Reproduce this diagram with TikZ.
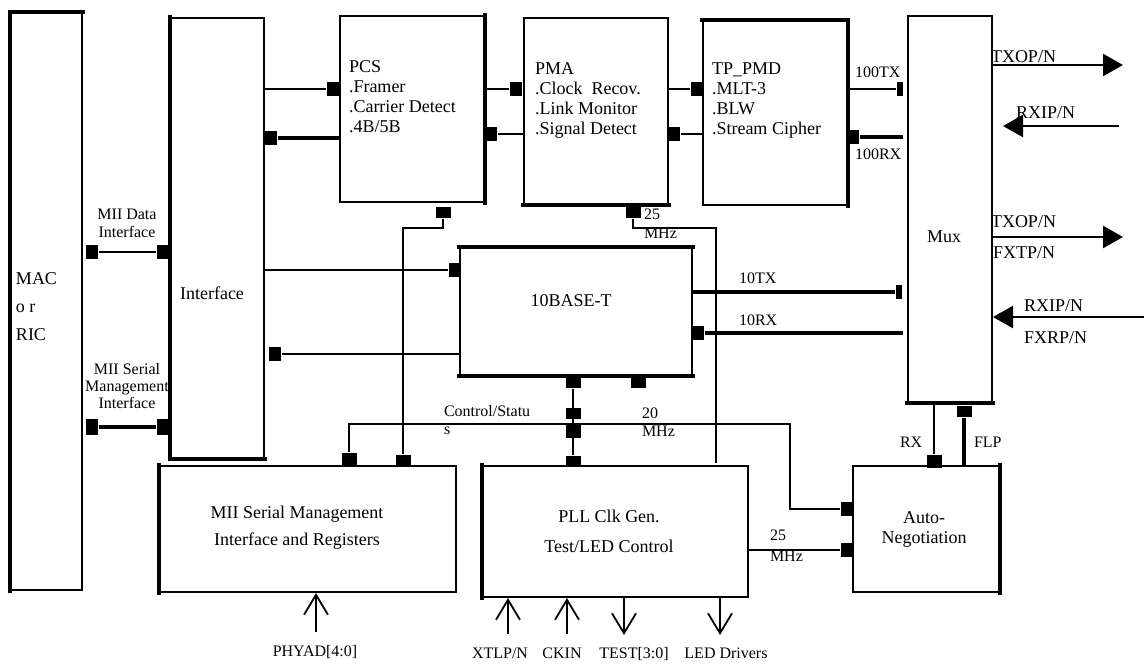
\documentclass[tikz,border=0pt]{standalone}
\usepackage{fontspec}
\setmainfont{Liberation Serif}
\usepackage{tikz}
\usetikzlibrary{positioning,arrows,arrows.meta}

\begin{document}
\begin{tikzpicture}[x=1pt,y=-1pt,line width=2pt,inner sep=0pt,font=\fontsize{18}{20}\selectfont]
            \tikzstyle{box}=[draw,line width=2pt]
            \tikzstyle{heavy}=[line width=4pt,line cap=rect]
            \tikzstyle{port}=[fill=black,minimum width=12pt,minimum height=14pt]
            \tikzstyle{hport}=[fill=black,minimum width=15pt,minimum height=11pt]
            \tikzstyle{portbar}=[fill=black,minimum width=6pt,minimum height=14pt]
            \tikzstyle{wire}=[line width=2pt]
            \tikzstyle{bus}=[line width=3.5pt]
            \tikzstyle{lbl}=[font=\fontsize{16}{18}\selectfont]
            \tikzstyle{outpin}=[line width=2.5pt,-{Triangle[length=20pt,width=22pt]}]
            \tikzstyle{sig}=[line width=1.8pt,-{Straight Barb[length=20pt,width=24pt]}]
            \useasboundingbox (0,0) rectangle (1144,665);

            \node[box,minimum width=71pt,minimum height=577pt] (mac) at (46.5,301.5) {};
            \node[box,minimum width=93pt,minimum height=440pt] (iface) at (217.5,238) {};
            \node[box,minimum width=144pt,minimum height=186pt] (pcs) at (412,109) {};
            \node[box,minimum width=144pt,minimum height=186pt] (pma) at (596,111) {};
            \node[box,minimum width=144pt,minimum height=184pt] (pmd) at (775,113) {};
            \node[box,minimum width=84pt,minimum height=386pt] (mux) at (950,209) {};
            \node[box,minimum width=232pt,minimum height=127pt] (tenbt) at (576,311.5) {};
            \node[box,minimum width=296pt,minimum height=126pt] (mgmt) at (308,529) {};
            \node[box,minimum width=265pt,minimum height=131pt] (pll) at (615.5,531.5) {};
            \node[box,minimum width=146pt,minimum height=126pt] (autoneg) at (926,529) {};
            \foreach \a/\b in {mac.north west/mac.south west,mac.north west/mac.north east,
                iface.north west/iface.south west,iface.south west/iface.south east,
                pcs.north east/pcs.south east,pma.south west/pma.south east,
                pmd.north west/pmd.north east,pmd.north east/pmd.south east,
                mux.south west/mux.south east,tenbt.north west/tenbt.north east,
                tenbt.south west/tenbt.south east,mgmt.north west/mgmt.south west,
                pll.north west/pll.south west,autoneg.north east/autoneg.south east}
                \draw[heavy] (\a) -- (\b);

            \node[anchor=north west,align=left,font=\fontsize{18}{28}\selectfont] (mactxt) at (15,272) {MAC\\o r\\RIC};
            \node (iftxt) at (212,293) {Interface};
            \node[anchor=north west,align=left] (pcstxt) at (348,60) {PCS\\.Framer\\.Carrier Detect\\.4B/5B};
            \node[anchor=north west,align=left] (pmatxt) at (534,62) {PMA\\.Clock~~Recov.\\.Link Monitor\\.Signal Detect};
            \node[anchor=north west,align=left] (pmdtxt) at (711,62) {TP\_PMD\\.MLT-3\\.BLW\\.Stream Cipher};
            \node (muxtxt) at (944,237) {Mux};
            \node (tentxt) at (571,301) {10BASE-T};
            \node[align=center,font=\fontsize{18}{27}\selectfont] (mgmttxt) at (297,528) {MII Serial Management\\Interface and Registers};
            \node[align=center,font=\fontsize{18}{30}\selectfont] (plltxt) at (609,531) {PLL Clk Gen.\\Test/LED Control};
            \node[align=center] (antxt) at (924,529) {Auto-\\Negotiation};

            \node[port] (macd) at (92,252) {};
            \node[port] (ifd) at (163,252) {};
            \node[port,minimum height=16pt] (macs) at (92,427) {};
            \node[port,minimum height=16pt] (ifs) at (163,427) {};
            \node[port] (pcsa) at (333,89) {};
            \node[port] (ifb) at (271,138) {};
            \node[port] (pmaa) at (516,89) {};
            \node[port] (pcsb) at (491,134) {};
            \node[port] (pmda) at (697,89) {};
            \node[port] (pmab) at (674,134) {};
            \node[portbar] (mux100) at (900,89) {};
            \node[port] (pmdrx) at (853,137) {};
            \node[hport] (pcsbot) at (443,212) {};
            \node[hport] (pmabot) at (633,212) {};
            \node[port] (tenin) at (455,270) {};
            \node[port] (ifc) at (275,354) {};
            \node[hport] (tenbot) at (573,382) {};
            \node[hport] (tenbot2) at (638,382) {};
            \node[hport] (csa) at (573,413) {};
            \node[hport,minimum height=14pt] (csb) at (573,431) {};
            \node[hport] (pllt) at (573,461) {};
            \node[hport,minimum height=13pt] (mgmta) at (349,459.5) {};
            \node[hport] (mgmtb) at (403,460) {};
            \node[port] (tenrx) at (697.5,333) {};
            \node[portbar] (mux10) at (899,292) {};
            \node[port] (anl) at (847,509) {};
            \node[port] (anl2) at (847,549.5) {};
            \node[hport,minimum height=13pt] (ant) at (934,461) {};
            \node[hport] (muxb) at (964,411) {};

            \coordinate (rx100) at (903,137);
            \coordinate (rx10) at (903,333);
            \coordinate (csturn) at (790,424);
            \coordinate (clkend) at (716,463);
            \coordinate (rxtop) at (934,405);
            \draw[wire] (macd) -- (ifd);
            \draw[bus] (macs) -- (ifs);
            \draw[wire] (iface.east |- pcsa) -- (pcsa);
            \draw[bus] (ifb) -- (pcs.west |- ifb);
            \draw[wire] (pcs.east |- pmaa) -- (pmaa);
            \draw[wire] (pcsb) -- (pma.west |- pcsb);
            \draw[wire] (pma.east |- pmda) -- (pmda);
            \draw[wire] (pmab) -- (pmd.west |- pmab);
            \draw[wire] (pmd.east |- mux100) -- (mux100);
            \draw[bus] (pmdrx) -- (rx100);
            \draw[wire] (iface.east |- tenin) -- (tenin);
            \draw[wire] (tenbt.west |- ifc) -- (ifc);
            \draw[bus] (tenbt.east |- mux10) -- (mux10);
            \draw[bus] (tenrx) -- (rx10);
            \draw[wire] (pcsbot) -- ++(0,16) -| (mgmtb);
            \draw[wire] (mgmta) |- (csturn) |- (anl);
            \draw[wire] (tenbot) -- (pllt);
            \draw[wire] (pmabot) -- ++(0,16) -| (clkend);
            \draw[wire] (pll.east |- anl2) -- (anl2);
            \draw[wire] (rxtop) -- (ant);
            \draw[line width=4pt] (muxb) -- (muxb |- autoneg.north);

            \coordinate (txa) at (1123,65);
            \coordinate (rxa) at (1119,126);
            \coordinate (txb) at (1123,237);
            \coordinate (rxb) at (1144,317);
            \draw[outpin] (mux.east |- txa) -- (txa);
            \draw[outpin] (rxa) -- ([xshift=10pt]mux.east |- rxa);
            \draw[outpin] (mux.east |- txb) -- (txb);
            \draw[outpin] (rxb) -- (mux.east |- rxb);

            \coordinate (phyad) at (316,632);
            \coordinate (xtlp) at (508,634);
            \coordinate (ckin) at (567,634);
            \coordinate (test) at (624,635);
            \coordinate (led) at (720,635);
            \draw[sig] (phyad) -- (mgmt.south -| phyad);
            \draw[sig] (xtlp) -- (pll.south -| xtlp);
            \draw[sig] (ckin) -- (pll.south -| ckin);
            \draw[sig] (pll.south -| test) -- (test);
            \draw[sig] (pll.south -| led) -- (led);

            \node[lbl,anchor=north,align=center] (miidlbl) at (127,208) {MII Data\\Interface};
            \node[lbl,anchor=north,align=center,font=\fontsize{16}{17}\selectfont] (miislbl) at (127,362) {MII Serial\\Management\\Interface};
            \node[lbl,anchor=base west] (l100tx) at (854,77) {100TX};
            \node[lbl,anchor=base west] (l100rx) at (854,159) {100RX};
            \node[anchor=base west] (ltxa) at (990,62) {TXOP/N};
            \node[anchor=base west] (lrxa) at (1015,118) {RXIP/N};
            \node[anchor=base west] (ltxb) at (990,227) {TXOP/N};
            \node[anchor=base west] (lfxt) at (992,258) {FXTP/N};
            \node[anchor=base west] (lrxb) at (1023,311) {RXIP/N};
            \node[anchor=base west] (lfxr) at (1023,343) {FXRP/N};
            \node[lbl,anchor=base west] (l10tx) at (738,283) {10TX};
            \node[lbl,anchor=base west] (l10rx) at (738,325) {10RX};
            \node[lbl,anchor=north west,align=left,font=\fontsize{16}{19}\selectfont] (l25a) at (643,208) {25\\MHz};
            \node[lbl,anchor=north west,align=left] (l20) at (641,407) {20\\MHz};
            \node[lbl,anchor=north west,align=left,font=\fontsize{16}{21}\selectfont] (l25b) at (769,529) {25\\MHz};
            \node[lbl,anchor=north west,align=left] (lcs) at (443,404) {Control/Statu\\s};
            \node[lbl,anchor=base west] (lrx) at (899,447) {RX};
            \node[lbl,anchor=base west] (lflp) at (973,447) {FLP};
            \node[lbl,anchor=base] (lphy) at (315,656) {PHYAD[4:0]};
            \node[lbl,anchor=base] (lxtlp) at (500,658) {XTLP/N};
            \node[lbl,anchor=base] (lckin) at (562,658) {CKIN};
            \node[lbl,anchor=base] (ltest) at (634,658) {TEST[3:0]};
            \node[lbl,anchor=base] (lled) at (726,658) {LED Drivers};
        \end{tikzpicture}
\end{document}
